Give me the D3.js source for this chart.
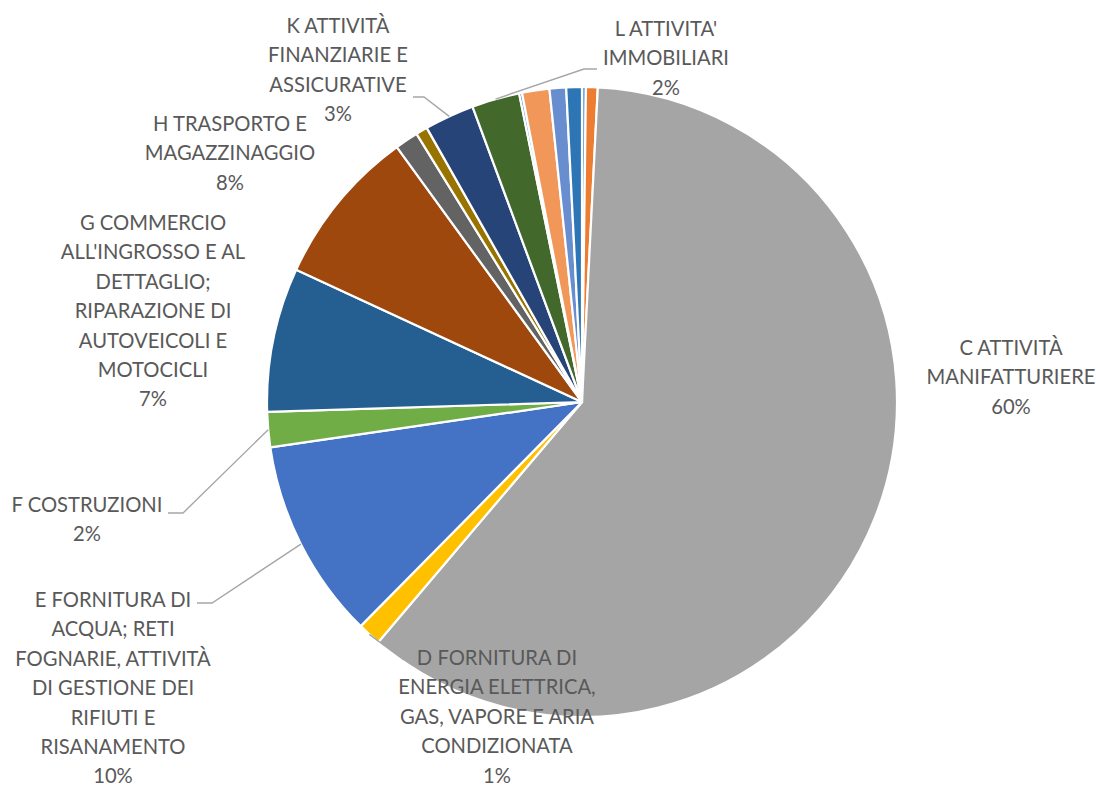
<!DOCTYPE html>
<html lang="it">
<head>
<meta charset="utf-8">
<script src="https://cdn.jsdelivr.net/npm/d3@7"></script>
<style>
  html, body { margin: 0; padding: 0; background: #ffffff; }
  svg { display: block; }
  .lbl { font-family: Lato, "Noto Sans", sans-serif; font-size: 20.2px; fill: #595959; }
</style>
</head>
<body>
<svg id="chart" width="1096" height="787"></svg>
<script>
// Quote per sezione ATECO (valori in %)
const codes = ["A", "B", "C", "D", "E", "F", "G", "H", "I", "J", "K", "L", "M", "N", "R", "S"];
const names = [
  "A AGRICOLTURA, SILVICOLTURA E PESCA",
  "B ESTRAZIONE DI MINERALI DA CAVE E MINIERE",
  "C ATTIVITÀ MANIFATTURIERE",
  "D FORNITURA DI ENERGIA ELETTRICA, GAS, VAPORE E ARIA CONDIZIONATA",
  "E FORNITURA DI ACQUA; RETI FOGNARIE, ATTIVITÀ DI GESTIONE DEI RIFIUTI E RISANAMENTO",
  "F COSTRUZIONI",
  "G COMMERCIO ALL'INGROSSO E AL DETTAGLIO; RIPARAZIONE DI AUTOVEICOLI E MOTOCICLI",
  "H TRASPORTO E MAGAZZINAGGIO",
  "I ATTIVITÀ DEI SERVIZI DI ALLOGGIO E DI RISTORAZIONE",
  "J SERVIZI DI INFORMAZIONE E COMUNICAZIONE",
  "K ATTIVITÀ FINANZIARIE E ASSICURATIVE",
  "L ATTIVITA' IMMOBILIARI",
  "M ATTIVITÀ PROFESSIONALI, SCIENTIFICHE E TECNICHE",
  "N NOLEGGIO, AGENZIE DI VIAGGIO, SERVIZI DI SUPPORTO ALLE IMPRESE",
  "R ATTIVITÀ ARTISTICHE, SPORTIVE, DI INTRATTENIMENTO E DIVERTIMENTO",
  "S ALTRE ATTIVITÀ DI SERVIZI"
];
const values = [0.2, 0.6, 60.4, 1.2, 10.3, 1.8, 7.4, 8.1, 1.2, 0.6, 2.55, 2.45, 0.15, 1.4, 0.85, 0.8];
const colors = ["#5B9BD5", "#ED7D31", "#A5A5A5", "#FFC000", "#4472C4", "#70AD47", "#255E91", "#9E480E",
                "#636363", "#997300", "#264478", "#43682B", "#5B9BD5", "#F1975A", "#698ED0", "#2E75B6"];

// Righe di testo delle etichette visibili
const labelLines = {
  C: ["C ATTIVITÀ", "MANIFATTURIERE"],
  D: ["D FORNITURA DI", "ENERGIA ELETTRICA,", "GAS, VAPORE E ARIA", "CONDIZIONATA"],
  E: ["E FORNITURA DI", "ACQUA; RETI", "FOGNARIE, ATTIVITÀ", "DI GESTIONE DEI", "RIFIUTI E", "RISANAMENTO"],
  F: ["F COSTRUZIONI"],
  G: ["G COMMERCIO", "ALL'INGROSSO E AL", "DETTAGLIO;", "RIPARAZIONE DI", "AUTOVEICOLI E", "MOTOCICLI"],
  H: ["H TRASPORTO E", "MAGAZZINAGGIO"],
  K: ["K ATTIVITÀ", "FINANZIARIE E", "ASSICURATIVE"],
  L: ["L ATTIVITA'", "IMMOBILIARI"]
};

// Posizionamento delle etichette e delle linee guida
const layout = {
  C: { x: 1011, y: 355 },
  D: { x: 497, y: 665, leader: [[404, 660]] },
  E: { x: 113, y: 607, leader: [[212, 603], [197, 603]] },
  F: { x: 87,  y: 512, leader: [[183, 513], [168, 513]] },
  G: { x: 153, y: 230 },
  H: { x: 230, y: 131 },
  K: { x: 338, y: 33,  leader: [[424, 97], [413, 97]] },
  L: { x: 666, y: 36,  leader: [[584, 69], [597, 69]] }
};

const cx = 582, cy = 402, radius = 315, lineH = 29.4;

const svg = d3.select("#chart");
const g = svg.append("g").attr("transform", `translate(${cx},${cy})`);

const data = codes.map((c, i) => ({ code: c, name: names[i], value: values[i], color: colors[i] }));
const total = d3.sum(values);

const pie = d3.pie().sort(null).value(d => d.value).startAngle(0).endAngle(2 * Math.PI);
const arcs = pie(data);
const arc = d3.arc().innerRadius(0).outerRadius(radius);

g.selectAll("path.slice")
  .data(arcs)
  .join("path")
  .attr("class", "slice")
  .attr("d", arc)
  .attr("fill", d => d.data.color)
  .attr("stroke", "#ffffff")
  .attr("stroke-width", 2.2)
  .attr("stroke-linejoin", "round");

const pct = d3.format(".0%");

// Linee guida: dal bordo della fetta (angolo medio) verso l'etichetta
const leaderArcs = arcs.filter(a => layout[a.data.code] && layout[a.data.code].leader);
svg.selectAll("path.leader")
  .data(leaderArcs)
  .join("path")
  .attr("class", "leader")
  .attr("fill", "none")
  .attr("stroke", "#A6A6A6")
  .attr("stroke-width", 1.4)
  .attr("d", a => {
    const mid = (a.startAngle + a.endAngle) / 2;
    const p0 = [cx + radius * Math.sin(mid), cy - radius * Math.cos(mid)];
    return d3.line()([p0, ...layout[a.data.code].leader]);
  });

// Etichette: nome della sezione e percentuale
const labelArcs = arcs.filter(a => labelLines[a.data.code]);
const texts = svg.selectAll("text.lbl")
  .data(labelArcs)
  .join("text")
  .attr("class", "lbl")
  .attr("text-anchor", "middle")
  .attr("x", a => layout[a.data.code].x)
  .attr("y", a => layout[a.data.code].y);

texts.each(function (a) {
  const t = d3.select(this);
  const lines = labelLines[a.data.code].concat([pct(a.data.value / total)]);
  lines.forEach((s, i) => {
    t.append("tspan")
      .attr("x", layout[a.data.code].x)
      .attr("dy", i === 0 ? 0 : lineH)
      .text(s);
  });
});
</script>
</body>
</html>
